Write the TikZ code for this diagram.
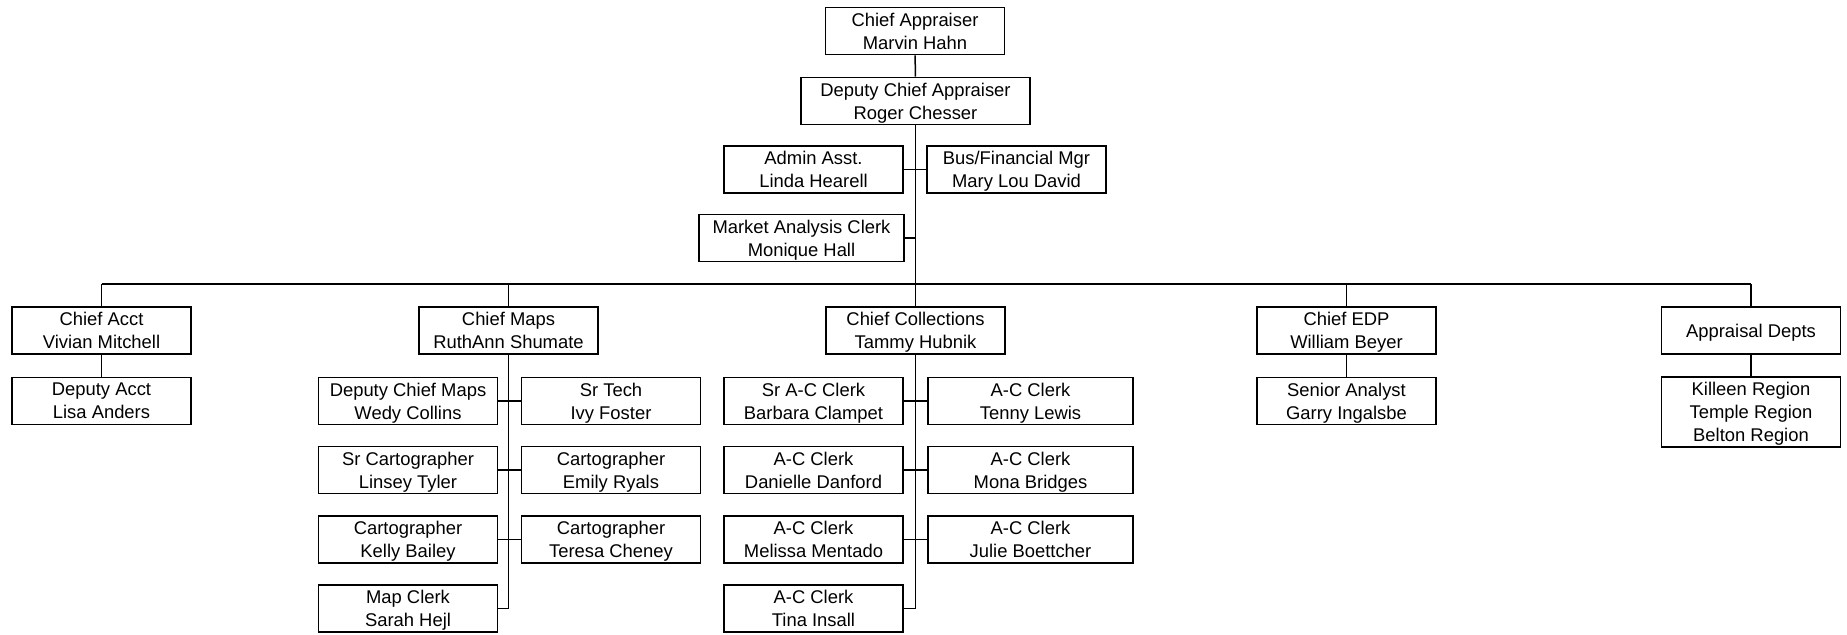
\documentclass[tikz,border=0pt]{standalone}
\usepackage{fontspec}
\setmainfont{Liberation Sans}

\begin{document}
\begin{tikzpicture}[x=0.5pt,y=-0.5pt]
				\tikzstyle{every node}=[draw,line width=0.9pt,inner sep=0pt,align=center,
				text depth=0pt,minimum height=23.5pt,minimum width=89.5pt,
				font=\fontsize{9.2}{11.65}\selectfont]
				\tikzstyle{wide}=[minimum width=102.5pt]
				\tikzstyle{link}=[line width=0.75pt]
				\useasboundingbox (0,0) rectangle (1847,634);
				\node (appraiser) at (915,31) {Chief Appraiser\\Marvin Hahn};
				\node[minimum width=114.5pt] (deputy) at (915.5,101) {Deputy Chief Appraiser\\Roger Chesser};
				\node (admin) at (813.5,169.5) {Admin Asst.\\Linda Hearell};
				\node (busfin) at (1016.5,169.5) {Bus/Financial Mgr\\Mary Lou David};
				\node[wide] (market) at (801.5,238) {Market Analysis Clerk\\Monique Hall};
				\node (acct) at (101.5,330.5) {Chief Acct\\Vivian Mitchell};
				\node (maps) at (508.5,330.5) {Chief Maps\\RuthAnn Shumate};
				\node (collect) at (915.5,330.5) {Chief Collections\\Tammy Hubnik};
				\node (edp) at (1346.5,330.5) {Chief EDP\\William Beyer};
				\node (depts) at (1751,330.5) {Appraisal Depts};
				\node (depacct) at (101.5,401) {Deputy Acct\\Lisa Anders};
				\node (depmaps) at (408,401) {Deputy Chief Maps\\Wedy Collins};
				\node (srtech) at (611,401) {Sr Tech\\Ivy Foster};
				\node (srcarto) at (408,470) {Sr Cartographer\\Linsey Tyler};
				\node (emily) at (611,470) {Cartographer\\Emily Ryals};
				\node (kelly) at (408,539.5) {Cartographer\\Kelly Bailey};
				\node (teresa) at (611,539.5) {Cartographer\\Teresa Cheney};
				\node (mapclerk) at (408,608.5) {Map Clerk\\Sarah Hejl};
				\node (barbara) at (813.5,401) {Sr A-C Clerk\\Barbara Clampet};
				\node[wide] (tenny) at (1030.5,401) {A-C Clerk\\Tenny Lewis};
				\node (danielle) at (813.5,470) {A-C Clerk\\Danielle Danford};
				\node[wide] (mona) at (1030.5,470) {A-C Clerk\\Mona Bridges};
				\node (melissa) at (813.5,539.5) {A-C Clerk\\Melissa Mentado};
				\node[wide] (julie) at (1030.5,539.5) {A-C Clerk\\Julie Boettcher};
				\node (tina) at (813.5,608.5) {A-C Clerk\\Tina Insall};
				\node (analyst) at (1346.5,401) {Senior Analyst\\Garry Ingalsbe};
				\node[minimum height=35pt] (regions) at (1751,412) {Killeen Region\\Temple Region\\Belton Region};
				\coordinate (bus) at (0,284);
				\draw[link] (appraiser) -- (deputy);
				\draw[link] (deputy.south) -- (collect.north);
				\draw[link] (admin) -- (busfin);
				\draw[link] (market.east) -- (market.east -| deputy.south);
				\draw[link] (acct.north |- bus) -- (depts.north |- bus);
				\foreach \n in {acct,maps,edp,depts}
					\draw[link] (\n.north) -- (\n.north |- bus);
				\draw[link] (acct) -- (depacct);
				\draw[link] (edp) -- (analyst);
				\draw[link] (depts) -- (regions);
				\draw[link] (maps.south) -- (maps.south |- mapclerk.east) -- (mapclerk.east);
				\draw[link] (depmaps) -- (srtech);
				\draw[link] (srcarto) -- (emily);
				\draw[link] (kelly) -- (teresa);
				\draw[link] (collect.south) -- (collect.south |- tina.east) -- (tina.east);
				\draw[link] (barbara) -- (tenny);
				\draw[link] (danielle) -- (mona);
				\draw[link] (melissa) -- (julie);
\end{tikzpicture}
\end{document}
